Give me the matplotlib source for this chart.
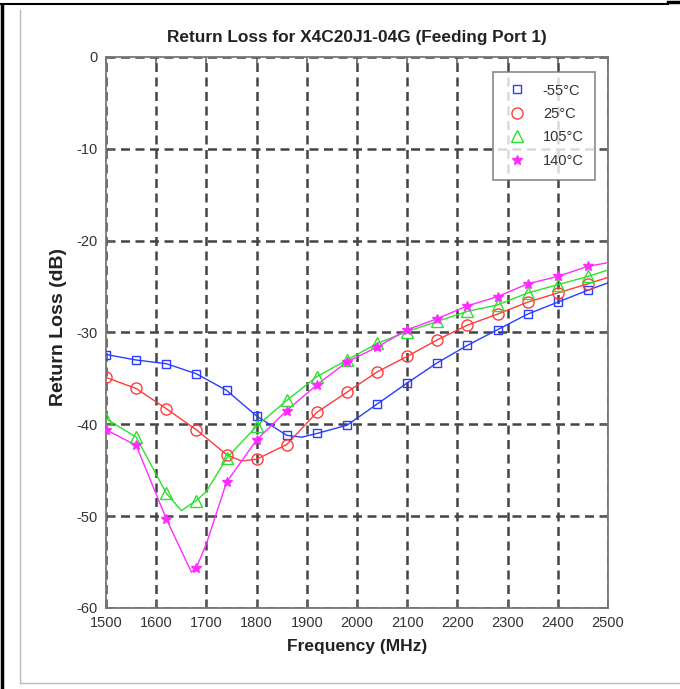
import matplotlib
matplotlib.use("Agg")
import matplotlib.pyplot as plt
from matplotlib.lines import Line2D

plt.rcParams['font.family'] = ['Liberation Sans Narrow', 'DejaVu Sans Condensed',
                               'Liberation Sans', 'DejaVu Sans']

# marker frequencies (MHz)
freq_mk = [1500, 1560, 1620, 1680, 1740, 1800, 1860, 1920, 1980, 2040,
           2100, 2160, 2220, 2280, 2340, 2400, 2460]

# -55 °C
m55_mk = [-32.4, -33.0, -33.4, -34.5, -36.3, -39.1, -41.2, -41.0, -40.1, -37.8,
          -35.5, -33.3, -31.4, -29.7, -28.0, -26.7, -25.4]
m55_f = [1500, 1560, 1620, 1680, 1740, 1800, 1860, 1890, 1920, 1980, 2040,
         2100, 2160, 2220, 2280, 2340, 2400, 2460, 2500]
m55_v = [-32.4, -33.0, -33.4, -34.5, -36.3, -39.1, -41.2, -41.4, -41.0, -40.1, -37.8,
         -35.5, -33.3, -31.4, -29.7, -28.0, -26.7, -25.4, -24.6]

# 25 °C
p25_mk = [-34.9, -36.1, -38.3, -40.6, -43.3, -43.8, -42.2, -38.7, -36.5, -34.3,
          -32.6, -30.8, -29.2, -28.0, -26.7, -25.7, -24.7]
p25_f = [1500, 1560, 1620, 1680, 1740, 1770, 1800, 1860, 1920, 1980, 2040,
         2100, 2160, 2220, 2280, 2340, 2400, 2460, 2500]
p25_v = [-34.9, -36.1, -38.3, -40.6, -43.3, -44.0, -43.8, -42.2, -38.7, -36.5, -34.3,
         -32.6, -30.8, -29.2, -28.0, -26.7, -25.7, -24.7, -24.0]

# 105 °C
p105_mk = [-39.4, -41.4, -47.5, -48.3, -43.7, -40.2, -37.4, -34.8, -33.0, -31.2,
           -29.9, -28.8, -27.7, -27.0, -25.7, -24.8, -23.9]
p105_f = [1500, 1560, 1620, 1650, 1680, 1700, 1740, 1800, 1860, 1920, 1980, 2040,
          2100, 2160, 2220, 2280, 2340, 2400, 2460, 2500]
p105_v = [-39.4, -41.4, -47.5, -49.4, -48.3, -47.3, -43.7, -40.2, -37.4, -34.8, -33.0, -31.2,
          -29.9, -28.8, -27.7, -27.0, -25.7, -24.8, -23.9, -23.2]

# 140 °C
p140_mk = [-40.6, -42.3, -50.3, -55.6, -46.3, -41.7, -38.5, -35.7, -33.2, -31.6,
           -29.7, -28.5, -27.1, -26.1, -24.7, -23.9, -22.8]
p140_f = [1500, 1560, 1620, 1670, 1680, 1700, 1740, 1800, 1860, 1920, 1980, 2040,
          2100, 2160, 2220, 2280, 2340, 2400, 2460, 2500]
p140_v = [-40.6, -42.3, -50.3, -56.1, -55.6, -53.0, -46.3, -41.7, -38.5, -35.7, -33.2, -31.6,
          -29.7, -28.5, -27.1, -26.1, -24.7, -23.9, -22.8, -22.4]

labels = ['-55°C', '25°C', '105°C', '140°C']
colors = ['#2a3cff', '#ff3b3b', '#2ee02e', '#ff2cff']
markers = ['s', 'o', '^', '*']
msizes = [6, 8, 8, 7]

xticks = [1500, 1600, 1700, 1800, 1900, 2000, 2100, 2200, 2300, 2400, 2500]
yticks = [0, -10, -20, -30, -40, -50, -60]

fig = plt.figure(figsize=(6.8, 6.89), dpi=100)
fig.patch.set_facecolor('white')

# outer frame decorations
fig.add_artist(Line2D([0.003, 0.003], [0.0, 0.993], transform=fig.transFigure,
                      color='black', lw=2.5))
fig.add_artist(Line2D([0.0, 0.982], [0.994, 0.994], transform=fig.transFigure,
                      color='black', lw=1.5))
fig.add_artist(Line2D([0.982, 1.0], [0.997, 0.997], transform=fig.transFigure,
                      color='black', lw=2.5))
fig.add_artist(Line2D([0.029, 0.029], [0.009, 0.985], transform=fig.transFigure,
                      color='#bbbbbb', lw=1.0))
fig.add_artist(Line2D([0.029, 1.0], [0.009, 0.009], transform=fig.transFigure,
                      color='#bbbbbb', lw=1.0))

ax = fig.add_axes([0.156, 0.1176, 0.738, 0.7997])

series = [(m55_f, m55_v, m55_mk), (p25_f, p25_v, p25_mk),
          (p105_f, p105_v, p105_mk), (p140_f, p140_v, p140_mk)]
handles = []
for (lf, lv, mk), lab, c, m, ms in zip(series, labels, colors, markers, msizes):
    ax.plot(lf, lv, color=c, lw=1.0, zorder=3)
    if m == '*':
        ax.plot(freq_mk, mk, linestyle='none', marker=m, ms=ms, color=c,
                mec=c, zorder=4)
        h = Line2D([], [], linestyle='none', marker=m, ms=ms, color=c, mec=c)
    else:
        ax.plot(freq_mk, mk, linestyle='none', marker=m, ms=ms, mfc='none',
                mec=c, mew=1.0, zorder=4)
        h = Line2D([], [], linestyle='none', marker=m, ms=ms, mfc='none', mec=c, mew=1.0)
    handles.append(h)

ax.set_xlim(1500, 2500)
ax.set_ylim(-60, 0)
ax.set_xticks(xticks)
ax.set_yticks(yticks)
ax.set_xticklabels([str(t) for t in xticks])
ax.set_yticklabels([str(t) for t in yticks])
ax.tick_params(direction='in', length=5, width=1.2, color='#666666',
               labelsize=10.5, top=True, right=True, pad=6, labelcolor='#333333')
ax.grid(True, color='#444444', lw=1.8, linestyle=(0, (3.6, 2.2)))
ax.set_axisbelow(True)
for s in ax.spines.values():
    s.set_color('#777777')
    s.set_linewidth(1.3)

ax.set_title('Return Loss for X4C20J1-04G (Feeding Port 1)', fontsize=12.4,
             fontweight='bold', pad=11, color='#222222')
ax.set_xlabel('Frequency (MHz)', fontsize=12.5, fontweight='bold', color='#222222',
              labelpad=6)
ax.set_ylabel('Return Loss (dB)', fontsize=14, fontweight='bold', color='#222222')
ax.yaxis.set_label_coords(-0.078, 0.51)

leg = ax.legend(handles, labels, loc='upper right', bbox_to_anchor=(0.975, 0.973),
                fontsize=10.5, frameon=True, fancybox=False, edgecolor='#777777',
                borderpad=0.8, labelspacing=0.65, handletextpad=1.0,
                handlelength=1.6, borderaxespad=0)
leg.get_frame().set_linewidth(1.3)
leg.set_zorder(10)
for t in leg.get_texts():
    t.set_color('#333333')

fig.savefig('out.png', dpi=100, facecolor='white')
